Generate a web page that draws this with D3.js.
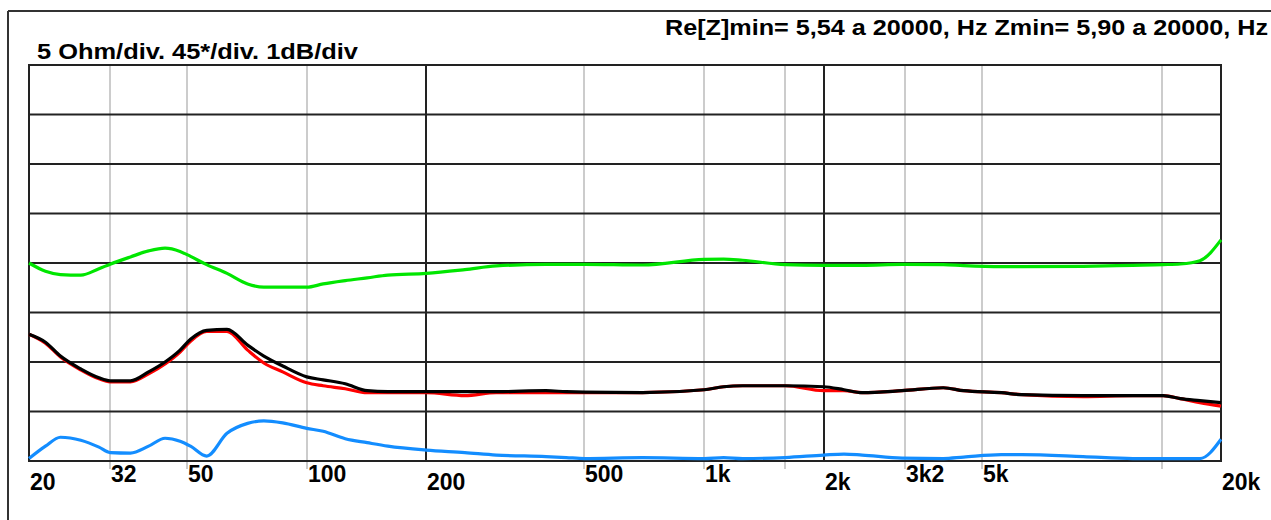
<!DOCTYPE html>
<html><head><meta charset="utf-8">
<script src="https://cdn.jsdelivr.net/npm/d3@7"></script>
<style>html,body{margin:0;padding:0;background:#fff;overflow:hidden}svg{display:block}</style>
</head><body>
<script>
// ---- data ----
const freqs = [20,22,24,27,30,32,36,40,44,48,51,56,63,71,78,87,100,110,125,142,160,200,250,300,400,450,500,700,1000,1120,1250,1600,2000,2250,2500,3150,4000,4500,5600,6300,9000,12000,14300,15800,17700,20000];
const impedance = [12.8,12.0,10.6,9.3,8.4,8.1,8.1,9.0,10.0,11.2,12.3,13.2,13.3,11.7,10.6,9.6,8.5,8.2,7.8,7.1,7.0,7.0,7.0,7.0,7.1,7.0,6.95,6.9,7.2,7.5,7.6,7.6,7.5,7.2,6.9,7.1,7.4,7.1,6.9,6.7,6.6,6.6,6.6,6.3,6.1,5.9];
const resistance = [12.8,11.9,10.5,9.2,8.3,8.0,8.0,8.8,9.8,11.0,12.1,13.1,13.1,11.2,9.9,9.0,7.9,7.6,7.3,6.9,6.9,6.9,6.6,6.9,6.9,6.9,6.9,6.9,7.2,7.5,7.6,7.6,7.1,7.1,6.9,7.1,7.4,7.1,6.9,6.7,6.5,6.6,6.6,6.3,5.9,5.54];
const phase = [0,-7.5,-10.5,-11,-5.2,-1.1,5.5,11,13.5,10.5,6,-1.5,-9.4,-19,-22,-22,-22,-19,-16,-13.5,-11,-9.4,-6,-2.7,-1.2,-1.2,-1.2,-1.8,3.3,3.6,2.5,-1.5,-2.1,-2.1,-2.1,-1.2,-1.5,-2.4,-3.3,-3.3,-3.0,-2.1,-1.5,-0.9,2.1,21];
const level = [0.05,0.3,0.48,0.42,0.28,0.17,0.16,0.3,0.46,0.4,0.3,0.1,0.56,0.76,0.81,0.77,0.66,0.6,0.45,0.37,0.3,0.22,0.17,0.12,0.09,0.07,0.05,0.07,0.05,0.07,0.05,0.07,0.12,0.14,0.12,0.06,0.05,0.08,0.13,0.13,0.09,0.05,0.05,0.05,0.05,0.44];
const majorGridFreqs = [200,2000];
const minorGridFreqs = [32,50,100,500,1000,1600,3200,5000,14200];
const tickFreqs = [20,32,50,100,200,500,1000,2000,3200,5000,20000];
const tickLabels = ["20","32","50","100","200","500","1k","2k","3k2","5k","20k"];
const scaleText = "5 Ohm/div. 45*/div. 1dB/div";
const minText = "Re[Z]min= 5,54 a 20000, Hz  Zmin= 5,90 a 20000, Hz";

// ---- layout ----
const W = 1271, H = 520;
const L = 29, R = 1221, T = 65, B = 461;
const svg = d3.select("body").append("svg").attr("width", W).attr("height", H);

const x = d3.scaleLog().domain([20, 20000]).range([L, R]);
const yOhm = d3.scaleLinear().domain([0, 40]).range([B, T]);
const yDeg = d3.scaleLinear().domain([-180, 180]).range([B, T]);
const yDb = d3.scaleLinear().domain([0, 8]).range([B, T]);

// outer frame
svg.append("line").attr("x1", 8).attr("x2", W).attr("y1", 11).attr("y2", 11).attr("stroke", "#333").attr("stroke-width", 2);
svg.append("line").attr("x1", 8).attr("x2", 8).attr("y1", 11).attr("y2", H).attr("stroke", "#333").attr("stroke-width", 2);

// grid
const g = svg.append("g");
g.selectAll(".vmin").data(minorGridFreqs).join("line")
  .attr("x1", d => Math.round(x(d))).attr("x2", d => Math.round(x(d)))
  .attr("y1", T).attr("y2", B + 8)
  .attr("stroke", "#cccccc").attr("stroke-width", 2);
g.selectAll(".h").data(yOhm.ticks(8)).join("line")
  .attr("x1", L).attr("x2", R).attr("y1", d => yOhm(d)).attr("y2", d => yOhm(d))
  .attr("stroke", "#222").attr("stroke-width", 2);
g.selectAll(".vmaj").data(majorGridFreqs).join("line")
  .attr("x1", d => Math.round(x(d))).attr("x2", d => Math.round(x(d)))
  .attr("y1", T).attr("y2", B)
  .attr("stroke", "#222").attr("stroke-width", 2);
g.append("rect").attr("x", L).attr("y", T).attr("width", R - L).attr("height", B - T)
  .attr("fill", "none").attr("stroke", "#222").attr("stroke-width", 2);

// curves
function drawCurve(vals, yScale, color) {
  const line = d3.line().x((d, i) => x(freqs[i])).y(d => yScale(d)).curve(d3.curveMonotoneX);
  svg.append("path").datum(vals).attr("d", line)
    .attr("fill", "none").attr("stroke", color).attr("stroke-width", 3.2)
    .attr("stroke-linejoin", "round");
}
drawCurve(phase, yDeg, "#00e600");
drawCurve(level, yDb, "#138dff");
drawCurve(resistance, yOhm, "#ff0000");
drawCurve(impedance, yOhm, "#000000");

// texts
const font = "'Liberation Sans', Arial, sans-serif";
svg.append("text").attr("x", 37).attr("y", 59).text(scaleText)
  .attr("font-family", font).attr("font-weight", "bold").attr("font-size", 22)
  .attr("textLength", 321).attr("lengthAdjust", "spacingAndGlyphs");
svg.append("text").attr("x", 665).attr("y", 35).text(minText)
  .attr("font-family", font).attr("font-weight", "bold").attr("font-size", 22)
  .attr("textLength", 603).attr("lengthAdjust", "spacingAndGlyphs");

svg.selectAll(".tick").data(tickFreqs).join("text")
  .attr("x", d => Math.round(x(d)) + 1)
  .attr("y", d => [20,200,2000,20000].includes(d) ? 490 : 482)
  .text((d, i) => tickLabels[i])
  .attr("font-family", font).attr("font-weight", "bold").attr("font-size", 23);
</script>
</body></html>
